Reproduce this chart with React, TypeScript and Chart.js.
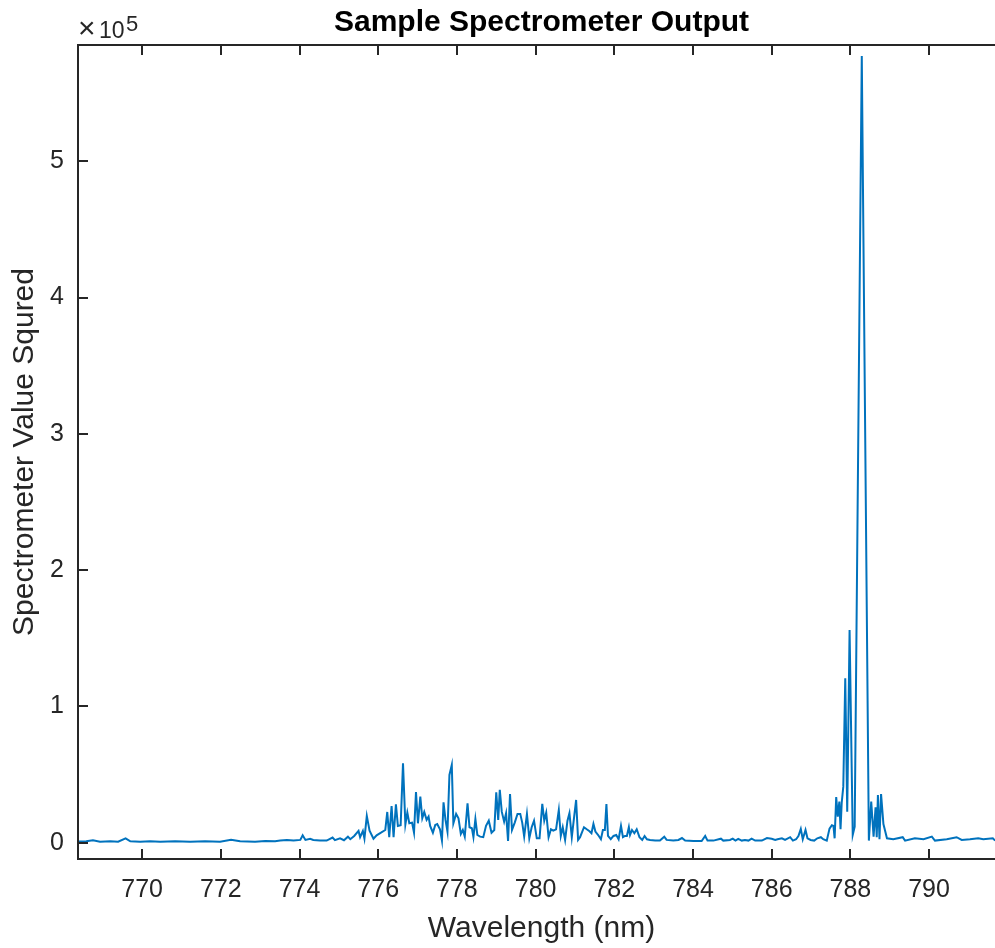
import { useEffect, useRef } from "react";
import { Chart, registerables } from "chart.js";

Chart.register(...registerables);

// Spectrometer readings: wavelength (nm) and squared value
const wavelengths = [
  768.37, 768.58, 768.75, 768.93, 769.19, 769.39, 769.58, 769.7, 769.95, 770.2,
  770.46, 770.84, 771.22, 771.6, 771.98, 772.26, 772.49, 772.87, 773.13, 773.38,
  773.51, 773.68, 773.85, 774.02, 774.08, 774.15, 774.27, 774.35, 774.52, 774.69,
  774.84, 774.9, 775.03, 775.13, 775.23, 775.29, 775.39, 775.5, 775.54, 775.61,
  775.65, 775.71, 775.78, 775.88, 775.96, 776.07, 776.18, 776.23, 776.28, 776.34,
  776.39, 776.45, 776.5, 776.57, 776.63, 776.69, 776.74, 776.79, 776.86, 776.91,
  776.96, 777.01, 777.07, 777.12, 777.17, 777.23, 777.28, 777.32, 777.39, 777.45,
  777.5, 777.57, 777.62, 777.66, 777.71, 777.76, 777.81, 777.87, 777.91, 777.98,
  778.04, 778.1, 778.15, 778.2, 778.27, 778.32, 778.38, 778.42, 778.47, 778.52,
  778.59, 778.67, 778.74, 778.81, 778.88, 778.95, 779.0, 779.05, 779.09, 779.14,
  779.2, 779.25, 779.3, 779.35, 779.4, 779.47, 779.54, 779.61, 779.66, 779.71,
  779.78, 779.84, 779.9, 779.96, 780.03, 780.1, 780.17, 780.22, 780.27, 780.33,
  780.39, 780.45, 780.52, 780.59, 780.64, 780.69, 780.75, 780.81, 780.86, 780.92,
  780.98, 781.03, 781.08, 781.13, 781.23, 781.3, 781.37, 781.42, 781.47, 781.52,
  781.59, 781.66, 781.71, 781.76, 781.8, 781.84, 781.91, 781.98, 782.05, 782.11,
  782.17, 782.22, 782.27, 782.32, 782.37, 782.4, 782.45, 782.51, 782.57, 782.64,
  782.71, 782.77, 782.83, 782.91, 783.04, 783.16, 783.27, 783.33, 783.5, 783.63,
  783.72, 783.8, 784.01, 784.22, 784.31, 784.37, 784.52, 784.71, 784.77, 784.94,
  785.01, 785.08, 785.15, 785.24, 785.32, 785.41, 785.49, 785.58, 785.75, 785.88,
  786.0, 786.09, 786.15, 786.26, 786.34, 786.47, 786.54, 786.62, 786.68, 786.74,
  786.79, 786.86, 786.91, 786.99, 787.08, 787.16, 787.25, 787.31, 787.4, 787.47,
  787.53, 787.57, 787.6, 787.64, 787.68, 787.72, 787.75, 787.78, 787.82, 787.87,
  787.92, 787.98, 788.06, 788.11, 788.29, 788.47, 788.53, 788.59, 788.64, 788.67,
  788.7, 788.74, 788.78, 788.84, 788.93, 789.09, 789.33, 789.39, 789.64, 789.86,
  790.07, 790.15, 790.45, 790.7, 790.83, 791.04, 791.25, 791.38, 791.62, 791.68,
];

const intensities = [
  900, 1000, 1800, 700, 1000, 700, 3200, 1000, 700, 1000,
  700, 1000, 700, 1000, 700, 2200, 1000, 700, 1200, 1000,
  1500, 2000, 1500, 2000, 5400, 2000, 2900, 2000, 1500, 1500,
  3700, 1800, 3200, 1800, 4400, 2500, 4900, 8600, 4000, 8600,
  2900, 19600, 8800, 2900, 5400, 7300, 9300, 22500, 4000, 26900,
  4000, 28200, 12300, 12800, 58300, 13200, 22000, 14200, 14700, 7300,
  37200, 14200, 33800, 17900, 22500, 16700, 19100, 12300, 7300, 13000,
  13700, 9800, 1500, 29600, 16700, 8100, 49700, 57000, 14200, 21100,
  17900, 6400, 9300, 4400, 28900, 11300, 10600, 4000, 17400, 5600,
  4400, 4000, 12300, 16100, 7300, 9300, 37000, 16700, 38700, 22700,
  15400, 21600, 1200, 35700, 9300, 14700, 21100, 21100, 14700, 4400,
  21100, 3200, 11300, 16100, 3200, 3200, 28400, 16100, 22000, 4000,
  9800, 8800, 9800, 24000, 4900, 11300, 2000, 16100, 21600, 4000,
  19100, 31300, 2000, 4000, 11300, 9800, 8400, 6900, 13700, 8100,
  5600, 2500, 9300, 9300, 28400, 4900, 2500, 4900, 5600, 2500,
  12300, 4000, 4900, 4900, 11300, 5600, 9300, 6900, 9800, 4000,
  2000, 4900, 2500, 2000, 1500, 1500, 4400, 2000, 1500, 2000,
  3400, 1500, 1200, 1200, 4900, 1500, 1500, 2900, 1500, 2000,
  2900, 1500, 2700, 1500, 2000, 1500, 2900, 1500, 1500, 3400,
  2900, 2000, 2500, 3200, 2000, 4000, 1500, 2500, 4900, 10100,
  2500, 9300, 3200, 2000, 1500, 3200, 4000, 2500, 1500, 10300,
  12800, 12300, 3200, 33500, 19100, 30100, 9800, 29300, 41100, 120600,
  22700, 156100, 5600, 11700, 577200, 1500, 30100, 4400, 26000, 4000,
  35000, 2500, 35700, 13700, 3200, 2500, 4000, 1500, 3200, 2500,
  4400, 1500, 2500, 4000, 2000, 2500, 3200, 2500, 3200, 1500,
];

const xTickValues = [770, 772, 774, 776, 778, 780, 782, 784, 786, 788, 790];
const yTickValues = [0, 100000, 200000, 300000, 400000, 500000];
const xLimits = [768.37, 791.93];
const yLimits = [-12000, 585300];
const yExponent = 5;

const TITLE = "Sample Spectrometer Output";
const X_LABEL = "Wavelength (nm)";
const Y_LABEL = "Spectrometer Value Squred";

const INK = "#262626";
const LINE_BLUE = "#0072BD";
const FONT = "'Liberation Sans', Arial, Helvetica, sans-serif";

// Box outline, inward tick marks on all four sides and the ×10^n factor
const axesFrame = {
  id: "axesFrame",
  afterDraw(chart: any) {
    const { ctx, chartArea: a, scales } = chart;
    const len = 10;
    ctx.save();
    ctx.strokeStyle = INK;
    ctx.lineWidth = 2;
    ctx.beginPath();
    ctx.rect(a.left, a.top, a.right - a.left, a.bottom - a.top);
    ctx.stroke();

    ctx.beginPath();
    for (const t of scales.x.ticks) {
      const px = Math.round(scales.x.getPixelForValue(t.value));
      ctx.moveTo(px, a.bottom);
      ctx.lineTo(px, a.bottom - len);
      ctx.moveTo(px, a.top);
      ctx.lineTo(px, a.top + len);
    }
    for (const t of scales.y.ticks) {
      const py = Math.round(scales.y.getPixelForValue(t.value));
      ctx.moveTo(a.left, py);
      ctx.lineTo(a.left + len, py);
      ctx.moveTo(a.right, py);
      ctx.lineTo(a.right - len, py);
    }
    ctx.stroke();

    ctx.fillStyle = INK;
    ctx.textBaseline = "alphabetic";
    ctx.textAlign = "left";
    ctx.font = `30px ${FONT}`;
    ctx.fillText("\u00d7", a.left, a.top - 7);
    ctx.font = `23px ${FONT}`;
    ctx.fillText("10", a.left + 21, a.top - 7);
    ctx.font = `22px ${FONT}`;
    ctx.fillText(String(yExponent), a.left + 48, a.top - 14);
    ctx.restore();
  },
};

export default function App() {
  const canvasRef = useRef<HTMLCanvasElement | null>(null);

  useEffect(() => {
    if (!canvasRef.current) return;
    const points = wavelengths.map((x, i) => ({ x, y: intensities[i] }));
    const chart = new Chart(canvasRef.current, {
      type: "line",
      data: {
        datasets: [
          {
            data: points,
            borderColor: LINE_BLUE,
            borderWidth: 2,
            pointRadius: 0,
            tension: 0,
            fill: false,
          },
        ],
      },
      options: {
        animation: false,
        responsive: false,
        devicePixelRatio: 1,
        layout: { padding: 0 },
        plugins: {
          legend: { display: false },
          tooltip: { enabled: false },
          title: {
            display: true,
            text: TITLE,
            color: "#000000",
            fullSize: false,
            font: { family: FONT, size: 30, weight: "bold", lineHeight: 1.2 },
            padding: { top: 4.5, bottom: 4.5 },
          },
        },
        scales: {
          x: {
            type: "linear",
            min: xLimits[0],
            max: xLimits[1],
            afterBuildTicks: (s: any) => {
              s.ticks = xTickValues.map((value) => ({ value }));
            },
            afterFit: (s: any) => {
              s.height = 89;
            },
            grid: { display: false, drawTicks: false },
            border: { display: false },
            ticks: {
              color: INK,
              font: { family: FONT, size: 25 },
              padding: 16,
              maxRotation: 0,
              autoSkip: false,
              callback: (v: any) => String(v),
            },
            title: {
              display: true,
              text: X_LABEL,
              color: INK,
              font: { family: FONT, size: 30, lineHeight: 1.2 },
              padding: { top: 0, bottom: 1 },
            },
          },
          y: {
            type: "linear",
            min: yLimits[0],
            max: yLimits[1],
            afterBuildTicks: (s: any) => {
              s.ticks = yTickValues.map((value) => ({ value }));
            },
            afterFit: (s: any) => {
              s.width = 78;
            },
            grid: { display: false, drawTicks: false },
            border: { display: false },
            ticks: {
              color: INK,
              font: { family: FONT, size: 25 },
              padding: 14,
              autoSkip: false,
              callback: (v: any) => String(Number(v) / Math.pow(10, yExponent)),
            },
            title: {
              display: true,
              text: Y_LABEL,
              color: INK,
              font: { family: FONT, size: 30, lineHeight: 1.2 },
              padding: { top: 7, bottom: 0 },
            },
          },
        },
      },
      plugins: [axesFrame],
    });
    return () => chart.destroy();
  }, []);

  return (
    <div
      style={{
        position: "absolute",
        left: 0,
        top: 0,
        width: 995,
        height: 948,
        overflow: "hidden",
        background: "#ffffff",
      }}
    >
      <canvas ref={canvasRef} width={1005} height={948} style={{ display: "block" }} />
    </div>
  );
}
